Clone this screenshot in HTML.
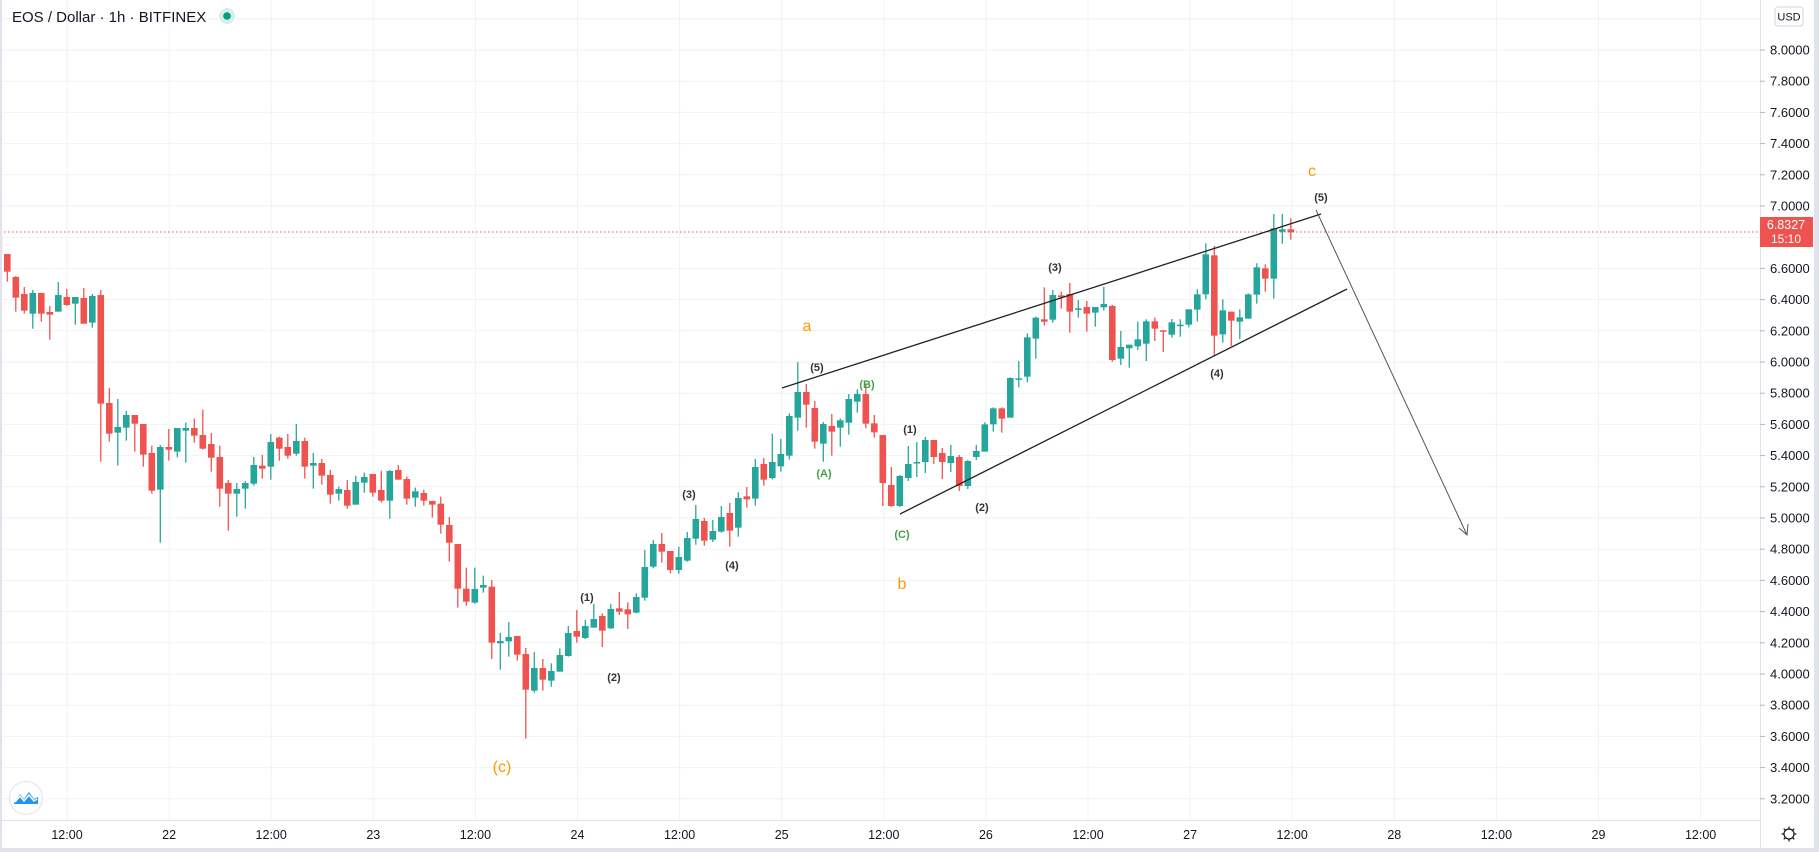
<!DOCTYPE html>
<html><head><meta charset="utf-8"><style>
html,body{margin:0;padding:0;background:#fff;}
body{width:1819px;height:852px;overflow:hidden;font-family:"Liberation Sans",sans-serif;}
svg{display:block}
</style></head><body>
<svg id="s" width="1819" height="852" xmlns="http://www.w3.org/2000/svg" font-family="Liberation Sans, sans-serif"></svg>
<script>
const s=document.getElementById('s');
let out='';
function Y(p){return 50+(8-p)*156;}
for(let p=3.2;p<=8.21;p+=0.2){const y=Y(p);out+=`<line x1="0" y1="${y}" x2="1760" y2="${y}" stroke="#f0f2f5" stroke-width="1"/>`;}
out+=`<line x1="0" y1="${Y(8.2)}" x2="1760" y2="${Y(8.2)}" stroke="#f0f2f5"/>`;
const tl=["12:00","22","12:00","23","12:00","24","12:00","25","12:00","26","12:00","27","12:00","28","12:00","29","12:00"];
for(let n=0;n<17;n++){const x=67+102.1*n;out+=`<line x1="${x}" y1="0" x2="${x}" y2="820" stroke="#f0f2f5"/>`;
out+=`<text x="${x}" y="839" font-size="12.5" fill="#131722" text-anchor="middle">${tl[n]}</text>`;}
function seg(yoff,k0,arr){arr.forEach((c,i)=>{const k=k0+i;const x=7.3+8.5*k;
 const o=yoff+c[0]/3,cl=yoff+c[1]/3,h=yoff+c[2]/3,l=yoff+c[3]/3;
 const up=cl<=o;const col=up?"#26a69a":"#ef5350";
 const top=Math.min(o,cl),bh=Math.max(Math.abs(o-cl),1.5);
 out+=`<line x1="${x}" y1="${Math.min(h,top)}" x2="${x}" y2="${Math.max(l,top+bh)}" stroke="${col}" stroke-width="1.3"/>`;
 out+=`<rect x="${x-3.3}" y="${top}" width="6.6" height="${bh}" fill="${col}"/>`;});}
seg(180,-1,[[170,222,170,225]]);
seg(180,0,[[222,275,222,305],[291,353,288,395],[342,392,321,401],[401,339,330,446],[339,401,339,425],[396,404,378,479],[395,345,306,395],[351,375,327,378],[371,351,351,434],[354,431,324,431],[428,348,342,443],[345,671,330,845],[669,761,624,785],[758,741,657,857],[743,705,693,782],[705,731,705,815],[732,824,732,860],[819,932,797,941],[929,801,795,1088],[801,809,747,842],[815,744,744,832],[752,744,728,848],[744,767,716,788],[765,806,689,809],[792,833,759,875],[831,926,797,980],[909,941,900,1052],[941,927,909,1010],[926,909,903,986],[911,855,831,917],[857,866,825,896],[860,786,762,899],[773,806,770,842],[801,827,762,836],[821,783,732,827],[783,860,773,896],[857,849,819,926],[849,887,837,914],[885,944,870,971],[941,927,920,962],[930,977,900,986],[974,906,887,974],[908,891,878,938],[882,938,882,950],[930,962,872,968],[962,873,870,1016],[870,899,855,899],[897,956,890,974],[953,934,923,980],[939,962,929,977],[963,974,963,1013],[971,1034,950,1061],[1035,1088,1011,1145],[1092,1226,1092,1283],[1226,1265,1163,1277],[1268,1227,1163,1271],[1223,1215,1187,1238]]);
seg(560,57,[[80,248,60,297],[250,243,219,329],[244,231,186,290],[228,284,228,302],[282,389,264,536],[392,324,276,398],[324,359,297,392],[362,333,310,380],[335,285,265,335],[288,219,198,290],[213,230,150,248],[234,198,180,237],[203,177,132,203],[168,212,160,261]]);
seg(250,71,[[1135,1077,1062,1137],[1075,1085,1026,1095],[1078,1093,1057,1137],[1088,1041,1030,1090],[1043,951,900,1052],[950,882,870,955],[882,905,849,938],[903,960,903,970],[960,921,890,971],[932,864,846,935],[866,807,765,884],[813,872,804,887],[869,843,810,876],[845,801,768,848],[789,842,759,890],[833,744,727,860],[739,748,711,773],[746,651,627,767],[642,689,624,707],[684,636,551,688],[649,612,567,665],[617,498,490,629],[503,426,336,542],[426,464,402,533],[474,575,453,596],[581,522,516,635],[528,545,492,617],[533,511,505,590],[518,447,432,554],[455,432,418,488]]);
seg(180,101,[[642,731,612,745],[730,757,705,773]]);
seg(0,103,[[435*3,483*3,435*3,506*3],[485*3,506*3,467*3,507*3],[506*3,476*3,475*3,507*3],[478*3,464*3,446*3,481*3],[463*3,462*3,442*3,477*3],[462*3,440*3,437*3,473*3],[440*3,457*3,440*3,464*3],[453*3,462*3,448*3,479*3],[463*3,456*3,445*3,472*3],[457*3,486*3,455*3,491*3],[486*3,461*3,460*3,489*3],[457*3,451*3,445*3,460*3]]);
seg(180,115,[[815,733,727,815],[733,685,682,755],[685,716,682,758],[713,594,592,713],[595,595,543,622],[590,472,460,607],[476,413,410,536],[418,425,322,437],[419,345,330,428],[346,352,335,386],[342,395,309,458],[385,385,360,413],[381,401,363,455],[398,381,381,440],[382,372,320,392],[378,540,375,545],[536,501,453,555],[505,494,494,563],[499,478,425,510],[491,424,418,543],[424,446,413,483],[451,452,451,516],[464,427,417,473]]);
seg(160,138,[[494,494,478,530],[494,448,448,502],[449,403,388,485],[403,283,250,418],[286,527,258,588],[523,451,418,548],[455,482,455,558],[485,472,448,537],[476,403,400,476],[404,322,310,431],[325,356,313,395],[356,205,162,416],[215,208,162,251],[208,217,175,239]]);
out+=`<line x1="0" y1="232" x2="1760" y2="232" stroke="#ef5350" stroke-width="1" stroke-dasharray="1.5,2.5"/>`;
out+=`<line x1="782" y1="388" x2="1321" y2="214" stroke="#222" stroke-width="1.3"/>`;
out+=`<line x1="900" y1="514" x2="1347" y2="289" stroke="#222" stroke-width="1.3"/>`;
out+=`<line x1="1316" y1="210" x2="1467" y2="535" stroke="#555" stroke-width="1"/>`;
out+=`<polyline points="1459,528 1467,535 1468,524" fill="none" stroke="#555" stroke-width="1"/>`;
function T(x,y,t,c,fs,w){out+=`<text x="${x}" y="${y}" font-size="${fs}" fill="${c}" text-anchor="middle" font-weight="${w||'normal'}">${t}</text>`;}
const D="#333",G="#43a047",O="#ff9800";
T(807,331,"a",O,16);T(817,371,"(5)",D,11,"bold");T(824,477,"(A)",G,11,"bold");T(867,388,"(B)",G,11,"bold");
T(689,498,"(3)",D,11,"bold");T(732,569,"(4)",D,11,"bold");T(587,601,"(1)",D,11,"bold");T(614,681,"(2)",D,11,"bold");
T(502,772,"(c)",O,16);T(910,433,"(1)",D,11,"bold");T(902,538,"(C)",G,11,"bold");T(982,511,"(2)",D,11,"bold");
T(902,589,"b",O,16);T(1055,271,"(3)",D,11,"bold");T(1217,377,"(4)",D,11,"bold");T(1321,201,"(5)",D,11,"bold");T(1312,176,"c",O,16);
out+=`<line x1="0" y1="820.5" x2="1760" y2="820.5" stroke="#e0e3eb"/>`;
out+=`<line x1="1760.5" y1="0" x2="1760.5" y2="852" stroke="#e0e3eb"/>`;
for(let p=3.2;p<=8.01;p+=0.2){const y=Y(p);out+=`<line x1="1760" y1="${y}" x2="1765" y2="${y}" stroke="#b2b5be"/><text x="1770" y="${y+4.5}" font-size="13" fill="#131722">${p.toFixed(4)}</text>`;}
out+=`<rect x="1760" y="217" width="53" height="30" fill="#ef5350"/><text x="1786" y="229" font-size="12.5" fill="#fff" text-anchor="middle">6.8327</text><text x="1786" y="243" font-size="12" fill="#fff" text-anchor="middle">15:10</text>`;
out+=`<rect x="1775" y="7" width="28" height="19" rx="3" fill="#fff" stroke="#d1d4dc"/><text x="1789" y="20.5" font-size="11" fill="#131722" text-anchor="middle">USD</text>`;
out+=`<circle cx="1789" cy="834" r="5" fill="none" stroke="#131722" stroke-width="1.2"/>`;
for(let a=0;a<8;a++){const r=a*Math.PI/4;out+=`<line x1="${1789+5*Math.cos(r)}" y1="${834+5*Math.sin(r)}" x2="${1789+7.5*Math.cos(r)}" y2="${834+7.5*Math.sin(r)}" stroke="#131722" stroke-width="1.2"/>`;}
out+=`<rect x="0" y="0" width="2" height="852" fill="#e0e3eb"/><rect x="1814" y="0" width="5" height="852" fill="#e0e3eb"/><rect x="0" y="848" width="1819" height="4" fill="#e0e3eb"/>`;
out+=`<text x="12" y="22" font-size="15" fill="#131722">EOS / Dollar · 1h · BITFINEX</text>`;
out+=`<circle cx="227" cy="16" r="8" fill="#d5f0ec"/><circle cx="227" cy="16" r="3.8" fill="#089981"/>`;
out+=`<circle cx="26" cy="798" r="16.5" fill="#fff" stroke="#e0e3eb"/><path d="M14 803 L20 794 L24 799 L29 792 L34 799 L38 797 L38 804 L14 804 Z" fill="#2196f3"/><path d="M15 802 L20 796 L24 801 L29 795 L34 801 L37 799" fill="none" stroke="#fff" stroke-width="1.5"/>`;
s.innerHTML=out;
</script>
</body></html>
